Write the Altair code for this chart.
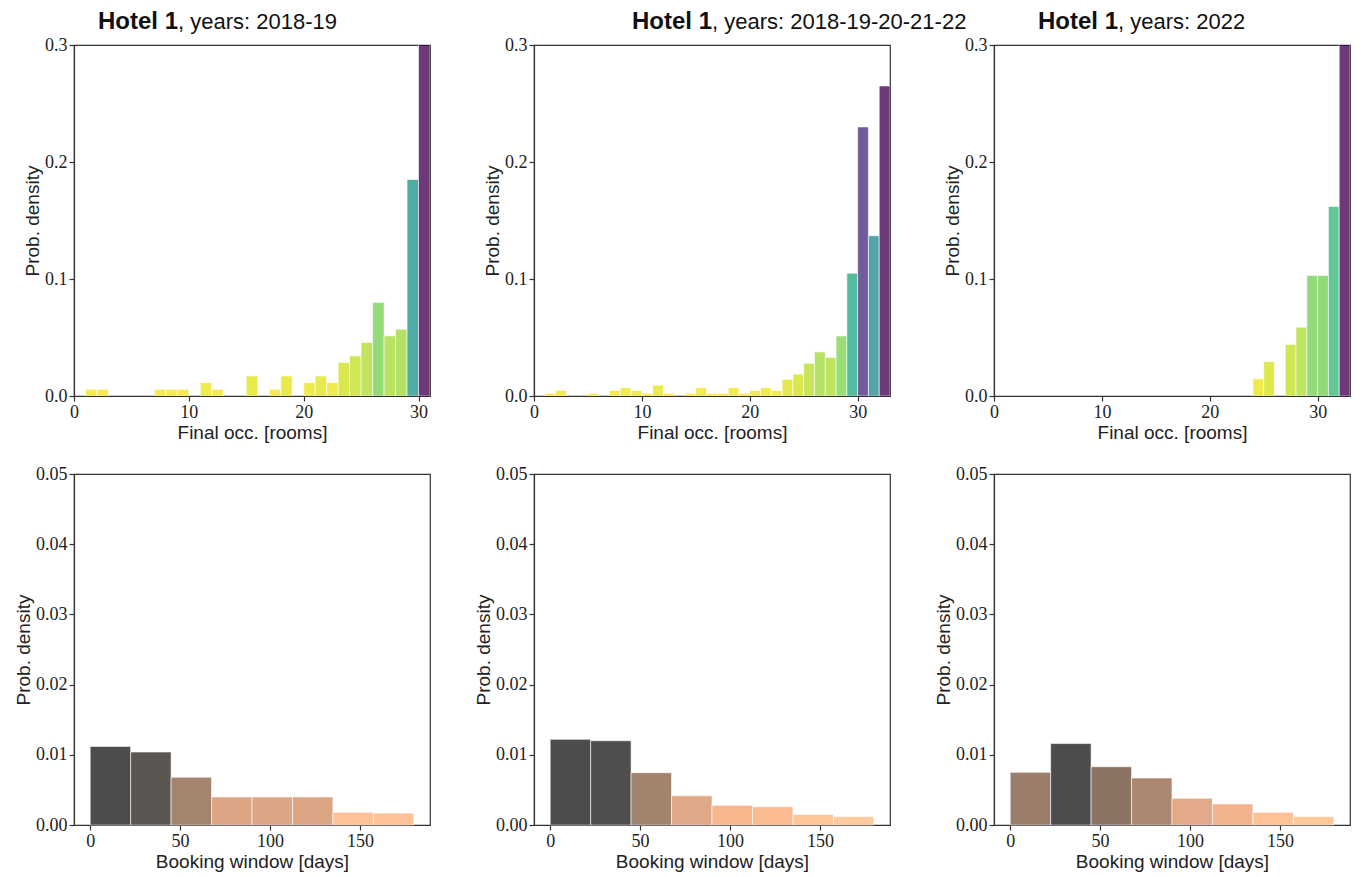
import altair as alt
import pandas as pd

# ---------------- data ----------------
titles = ["2018-19", "2018-19-20-21-22", "2022"]
occ_capacity = [31, 33, 33]

# density of final occupancy per 1-room bin, bin k = [k, k+1)
occ_density_1819 = [0, 0.0057, 0.0057, 0, 0, 0, 0, 0.0057, 0.0057, 0.0057, 0,
                    0.0114, 0.0057, 0, 0, 0.0171, 0, 0.0057, 0.0171, 0, 0.0114,
                    0.0171, 0.0114, 0.0286, 0.0343, 0.0457, 0.080, 0.0514, 0.0571,
                    0.185, 0.39]
occ_density_all = [0, 0.0023, 0.0047, 0, 0, 0.0023, 0, 0.0047, 0.007, 0.0047, 0.0023,
                   0.0093, 0.0023, 0, 0.0023, 0.007, 0.0023, 0.0023, 0.007, 0.0023,
                   0.0047, 0.007, 0.0047, 0.0142, 0.0187, 0.028, 0.0377, 0.0329,
                   0.0513, 0.105, 0.23, 0.137, 0.265]
occ_density_2022 = [0, 0, 0, 0, 0, 0, 0, 0, 0, 0, 0, 0, 0, 0, 0, 0, 0, 0, 0, 0, 0,
                    0, 0, 0, 0.0147, 0.0294, 0, 0.0441, 0.0588, 0.103, 0.103,
                    0.162, 0.485]

bw_edges = [0, 22.5, 45, 67.5, 90, 112.5, 135, 157.5, 180]
bw_density_1819 = [0.0112, 0.0104, 0.0068, 0.0040, 0.0040, 0.0040, 0.0018, 0.0017]
bw_density_all = [0.0122, 0.0120, 0.00745, 0.00415, 0.0028, 0.0026, 0.0015, 0.0012]
bw_density_2022 = [0.0075, 0.0116, 0.0083, 0.0067, 0.0038, 0.0030, 0.0018, 0.0012]

occ_sets = [occ_density_1819, occ_density_all, occ_density_2022]
bw_sets = [bw_density_1819, bw_density_all, bw_density_2022]
title_junction = [104, 178, 124]

# ---------------- style ----------------
W, H = 356, 351
SANS = "Liberation Sans"
SERIF = "Liberation Serif"
LINE = "#333333"


def axis(title, values, fmt):
    return alt.Axis(title=title, values=values, format=fmt, grid=False,
                    labelFont=SERIF, labelFontSize=18, labelColor="#222",
                    titleFont=SANS, titleFontSize=19, titleFontWeight="normal",
                    titleColor="#222", tickSize=5, labelPadding=2,
                    titlePadding=2, domainColor=LINE, tickColor=LINE,
                    domainWidth=1.2, tickWidth=1.2, labelFlush=False)


def occ_panel(i):
    dens = occ_sets[i]
    df = pd.DataFrame({"start": list(range(len(dens))),
                       "end": [k + 1 for k in range(len(dens))],
                       "density": dens})
    df = df[df["density"] > 0]
    m = max(dens)
    bars = alt.Chart(df).mark_bar(clip=True, fillOpacity=0.78, stroke="white",
                                  strokeWidth=0.6).encode(
        x=alt.X("start:Q", scale=alt.Scale(domain=[0, occ_capacity[i]], nice=False,
                                           zero=False, padding=0),
                axis=axis("Final occ. [rooms]", [0, 10, 20, 30], "d")),
        x2="end:Q",
        y=alt.Y("density:Q", scale=alt.Scale(domain=[0, 0.3], nice=False, padding=0),
                axis=axis("Prob. density", [0, 0.1, 0.2, 0.3], ".1f")),
        y2=alt.datum(0),
        color=alt.Color("density:Q", legend=None,
                        scale=alt.Scale(scheme="viridis", reverse=True, domain=[0, m])),
    )
    tdf = pd.DataFrame({"bold": ["Hotel 1"], "rest": [", years: " + titles[i]]})
    t1 = alt.Chart(tdf).mark_text(align="right", baseline="alphabetic", font=SANS,
                                  fontSize=24, fontWeight="bold", color="#111").encode(
        text="bold:N", x=alt.value(title_junction[i]), y=alt.value(-16))
    t2 = alt.Chart(tdf).mark_text(align="left", baseline="alphabetic", font=SANS,
                                  fontSize=22, color="#111").encode(
        text="rest:N", x=alt.value(title_junction[i]), y=alt.value(-16))
    return alt.layer(bars, t1, t2).properties(width=W, height=H).resolve_scale(color="independent")


def bw_panel(i):
    dens = bw_sets[i]
    df = pd.DataFrame({"start": bw_edges[:-1], "end": bw_edges[1:], "density": dens})
    m = max(dens)
    return alt.Chart(df).mark_bar(fillOpacity=0.7, stroke="white", strokeWidth=0.6).encode(
        x=alt.X("start:Q", scale=alt.Scale(domain=[-9, 189], nice=False, zero=False, padding=0),
                axis=axis("Booking window [days]", [0, 50, 100, 150], "d")),
        x2="end:Q",
        y=alt.Y("density:Q", scale=alt.Scale(domain=[0, 0.05], nice=False, padding=0),
                axis=axis("Prob. density", [0, 0.01, 0.02, 0.03, 0.04, 0.05], ".2f")),
        y2=alt.datum(0),
        color=alt.Color("density:Q", legend=None,
                        scale=alt.Scale(domain=[0, 0.2 * m, m],
                                        range=["#ffc77f", "#ff9f65", "#000000"],
                                        interpolate="rgb")),
    ).properties(width=W, height=H)


panels = [occ_panel(i) for i in range(3)] + [bw_panel(i) for i in range(3)]

chart = alt.concat(*panels, columns=3, spacing={"row": 78, "column": 104},
                   bounds="flush").resolve_scale(color="independent").properties(
    padding={"left": 13, "top": 9, "right": 5, "bottom": 5},
    background="white"
).configure_view(stroke=LINE, strokeWidth=1.2)

chart.save("out.html", embed_options={"renderer": "svg", "actions": False})
